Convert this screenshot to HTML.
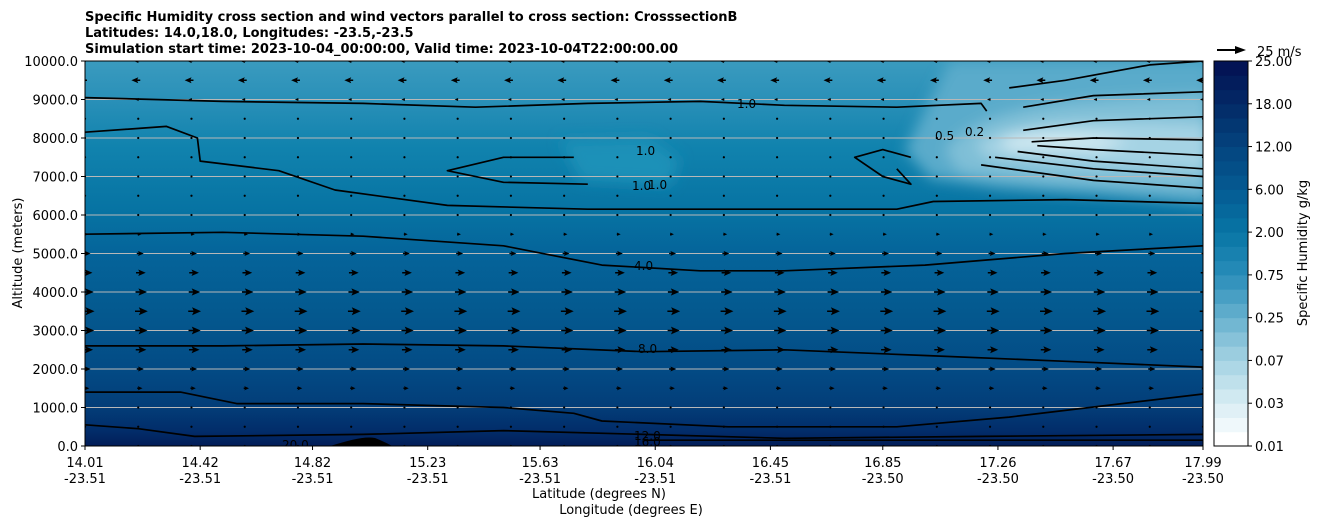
<!DOCTYPE html>
<html><head><meta charset="utf-8">
<style>
body{margin:0;background:#fff;width:1326px;height:526px;overflow:hidden;font-family:"Liberation Sans","DejaVu Sans",sans-serif;}
svg text{font-family:"DejaVu Sans","Liberation Sans",sans-serif;}
</style></head>
<body>
<svg id="c" width="1326" height="526" viewBox="0 0 1326 526" xmlns="http://www.w3.org/2000/svg">
<defs>
<linearGradient id="bg" x1="0" y1="0" x2="0" y2="1">
<stop offset="0" stop-color="#3a9bbf"/>
<stop offset="0.1" stop-color="#2a90b8"/>
<stop offset="0.22" stop-color="#1183ae"/>
<stop offset="0.4" stop-color="#0672a2"/>
<stop offset="0.5" stop-color="#05649a"/>
<stop offset="0.65" stop-color="#04598f"/>
<stop offset="0.8" stop-color="#034b85"/>
<stop offset="0.9" stop-color="#033d78"/>
<stop offset="0.96" stop-color="#022d6a"/>
<stop offset="1" stop-color="#021d58"/>
</linearGradient>
<filter id="blur"><feGaussianBlur stdDeviation="7"/></filter>
<clipPath id="pc"><rect x="85" y="61" width="1118" height="385"/></clipPath>
</defs>
<g id="plot" clip-path="url(#pc)">
<rect x="85" y="61" width="1118" height="385" fill="url(#bg)"/>
<g filter="url(#blur)">
<path d="M950,61 L1210,61 L1210,205 L1100,195 L1000,188 L930,178 L905,150 L930,100 Z" fill="#5aabcb"/>
<path d="M945,150 C980,110 1040,100 1210,95 L1210,190 L1050,182 L960,172 Z" fill="#7fbfd7"/>
<path d="M975,145 C1020,120 1080,118 1210,125 L1210,170 L1060,165 L990,158 Z" fill="#a5d3e4"/>
<path d="M1000,140 C1040,130 1070,130 1130,140 L1100,150 L1010,150 Z" fill="#d0e9f1"/>
<path d="M560,140 L650,138 L680,160 L670,185 L580,180 Z" fill="#1f91b8"/>
</g>
<path d="M330,446 C350,440 365,436 375,438 C385,442 392,446 392,446 Z" fill="#000"/>
</g>
<g id="grid"></g>
<g id="contours" clip-path="url(#pc)"></g>
<g id="winds" clip-path="url(#pc)"></g>
<rect x="85" y="61" width="1118" height="385" fill="none" stroke="#000" stroke-width="1"/>
<g id="xaxis"></g><g id="yaxis"></g><g id="cbar"></g>
<text x="85" y="21" font-size="13" font-weight="bold">Specific Humidity cross section and wind vectors parallel to cross section: CrosssectionB</text>
<text x="85" y="37" font-size="13" font-weight="bold">Latitudes: 14.0,18.0, Longitudes: -23.5,-23.5</text>
<text x="85" y="53" font-size="13" font-weight="bold">Simulation start time: 2023-10-04_00:00:00, Valid time: 2023-10-04T22:00:00.00</text>
<text x="22" y="253" font-size="13" text-anchor="middle" transform="rotate(-90 22 253)">Altitude (meters)</text>
<text x="599" y="498" font-size="13" text-anchor="middle">Latitude (degrees N)</text>
<text x="631" y="514" font-size="13" text-anchor="middle">Longitude (degrees E)</text>
<g>
<line x1="1217" y1="50" x2="1238" y2="50" stroke="#000" stroke-width="2"/>
<path d="M1246,50 L1235,46 L1235,54 Z" fill="#000"/>
<text x="1257" y="56" font-size="13">25 m/s</text>
</g>
<text x="1307" y="253" font-size="13" text-anchor="middle" transform="rotate(-90 1307 253)">Specific Humidity g/kg</text>
</svg>
<script>
const latTicks=["14.01","14.42","14.82","15.23","15.63","16.04","16.45","16.85","17.26","17.67","17.99"];
const latVals=[14.01,14.42,14.82,15.23,15.63,16.04,16.45,16.85,17.26,17.67,17.99];
const lonTicks=["-23.51","-23.51","-23.51","-23.51","-23.51","-23.51","-23.51","-23.50","-23.50","-23.50","-23.50"];
const altTicks=[0,1000,2000,3000,4000,5000,6000,7000,8000,9000,10000];
const cbarLabels=["0.01","0.03","0.07","0.25","0.75","2.00","6.00","12.00","18.00","25.00"];
const windAlts=[0,500,1000,1500,2000,2500,3000,3500,4000,4500,5000,5500,6000,6500,7000,7500,8000,8500,9000,9500,10000];
const windU=[0,0,0.3,2,3,5,6,6.5,5.5,4.5,3,1.2,0.5,0.3,0.3,0.3,0.3,0.3,-1,-4,-2];
const windCols=22;
const contourLevels=["1.0","2.0","4.0","8.0","12.0","16.0","20.0"];
const contourLat=[[14.01,14.5,15.0,15.4,15.8,16.2,16.5,16.9,17.2,17.22],[14.01,14.3,14.41,14.42,14.7,14.9,15.3,15.8,16.3,16.9,17.03,17.5,17.99],[14.01,14.5,15.0,15.5,15.85,16.2,16.5,17.0,17.5,17.99],[14.01,14.5,15.0,15.5,16.0,16.5,17.0,17.5,17.99],[14.01,14.35,14.55,15.0,15.5,15.75,15.85,16.3,16.9,17.3,17.99],[14.01,14.2,14.4,15.0,15.5,16.0,16.5,17.2,17.99],[16.0,16.5,17.2,17.99]];
const contourAlt=[[9050,8950,8900,8800,8900,8950,8850,8800,8900,8700],[8150,8300,8000,7400,7150,6650,6250,6150,6150,6150,6350,6400,6300],[5500,5550,5450,5200,4700,4550,4550,4700,5000,5200],[2600,2600,2650,2600,2450,2500,2350,2200,2050],[1400,1400,1100,1100,1000,850,650,500,500,750,1350],[550,450,250,300,400,300,200,250,300],[150,150,150,150]];
const topLat=[[17.3,17.5,17.8,17.99],[17.35,17.6,17.99],[17.35,17.6,17.99],[17.38,17.6,17.99],[17.4,17.6,17.99],[17.33,17.6,17.99],[17.25,17.6,17.99],[17.2,17.6,17.99]];
const topAlt=[[9300,9500,9900,10000],[8800,9100,9200],[8200,8450,8550],[7900,8000,7950],[7800,7700,7550],[7650,7400,7200],[7500,7200,7000],[7300,6900,6700]];

const X0=85,X1=1203,Y0=446,Y1=61;
const xs=l=>X0+(l-14.01)/(17.99-14.01)*(X1-X0);
const ys=a=>Y0-a/10000*(Y0-Y1);
const NS="http://www.w3.org/2000/svg";
function mk(t,a,p){const e=document.createElementNS(NS,t);for(const k in a)e.setAttribute(k,a[k]);p.appendChild(e);return e;}
const grid=document.getElementById('grid');
altTicks.forEach((a,i)=>{if(a===0||a===10000)return;
 const l=mk('line',{x1:X0,x2:X1,y1:ys(a),y2:ys(a),stroke:'#b8b8b8','stroke-width':1},grid);
 
 });
const ya=document.getElementById('yaxis');
altTicks.forEach(a=>{
 mk('line',{x1:X0-4,x2:X0,y1:ys(a),y2:ys(a),stroke:'#000'},ya);
 const t=mk('text',{x:X0-7,y:ys(a)+5,'font-size':13,'text-anchor':'end'},ya);
 t.textContent=a.toFixed(1);
 
 });
const xa=document.getElementById('xaxis');
latVals.forEach((v,i)=>{const x=xs(v);
 mk('line',{x1:x,x2:x,y1:Y0,y2:Y0+4,stroke:'#000'},xa);
 const t=mk('text',{x:x,y:467,'font-size':13,'text-anchor':'middle'},xa);
 t.textContent=latTicks[i];
 
 
 const t2=mk('text',{x:x,y:483,'font-size':13,'text-anchor':'middle'},xa);
 t2.textContent=lonTicks[i];
 
 });
const cg=document.getElementById('contours');
function line(lats,alts,name){const d=lats.map((l,i)=>(i?'L':'M')+xs(l).toFixed(1)+','+ys(alts[i]).toFixed(1)).join(' ');
 const p=mk('path',{d:d,fill:'none',stroke:'#000','stroke-width':1.7,'stroke-linejoin':'round'},cg);
 
 }
contourLat.forEach((L,i)=>line(L,contourAlt[i],'contour-'+contourLevels[i]));
topLat.forEach((L,i)=>line(L,topAlt[i],'contour-dry-'+i));
line([15.75,15.5,15.3,15.5,15.8],[7500,7500,7150,6850,6800],'contour-1.0-island');
line([16.95,16.85,16.75,16.85,16.95,16.9],[7500,7700,7500,7000,6800,7200],'contour-2.0-island');
[[636,155,'1.0'],[632,190,'1.0'],[648,189,'1.0'],[737,108,'1.0'],[634,270,'4.0'],[638,353,'8.0'],[634,440,'12.0'],[634,446,'16.0'],[282,449,'20.0'],[935,140,'0.5'],[965,136,'0.2']].forEach(a=>{
 const t=mk('text',{x:a[0],y:a[1],'font-size':12},cg);t.textContent=a[2];
 
 });
const wg=document.getElementById('winds');
const colStep=(X1-X0)/(windCols-1);
windAlts.forEach((a,r)=>{const u=windU[r];const y=ys(a);
 for(let c=0;c<windCols;c++){const x=X0+c*colStep;
  const L=u*1.0;const dir=Math.sign(u)||1;const h=Math.min(9,2.5+Math.abs(u)*1.1);const w=Math.min(4,1.2+Math.abs(u)*0.45);
  const g=mk('g',{},wg);
  
  
  if(Math.abs(u)<0.6){mk('circle',{cx:x,cy:y,r:1.1,fill:'#000'},g);continue;}
  mk('line',{x1:x-L/2,x2:x+L/2,y1:y,y2:y,stroke:'#000','stroke-width':1.5},g);
  const tip=x+L/2+dir*h*0.7;
  mk('path',{d:`M${tip},${y} L${tip-dir*h},${y-w} L${tip-dir*h*0.8},${y} L${tip-dir*h},${y+w} Z`,fill:'#000'},g);}
});
const cb=document.getElementById('cbar');
const nb=27,cx0=1214,cw=34,ct=61,chh=385;
const cstops=[[255,255,255],[210,234,242],[160,208,225],[100,175,205],[40,140,185],[8,118,165],[5,92,148],[4,70,128],[3,45,105],[3,20,85]];
for(let i=0;i<nb;i++){const f=i/(nb-1)*(cstops.length-1);const k=Math.min(Math.floor(f),cstops.length-2);const t=f-k;
 const col=cstops[k].map((v,j)=>Math.round(v+(cstops[k+1][j]-v)*t));
 const r=mk('rect',{x:cx0,y:ct+chh-(i+1)*chh/nb,width:cw,height:chh/nb+0.5,fill:`rgb(${col})`},cb);
 
 }
mk('rect',{x:cx0,y:ct,width:cw,height:chh,fill:'none',stroke:'#000'},cb);
cbarLabels.forEach((s,i)=>{const y=ct+chh-i*chh/(cbarLabels.length-1);
 mk('line',{x1:cx0+cw,x2:cx0+cw+4,y1:y,y2:y,stroke:'#000'},cb);
 const t=mk('text',{x:cx0+cw+7,y:y+5,'font-size':13},cb);t.textContent=s;
 
 });
</script>
</body></html>
